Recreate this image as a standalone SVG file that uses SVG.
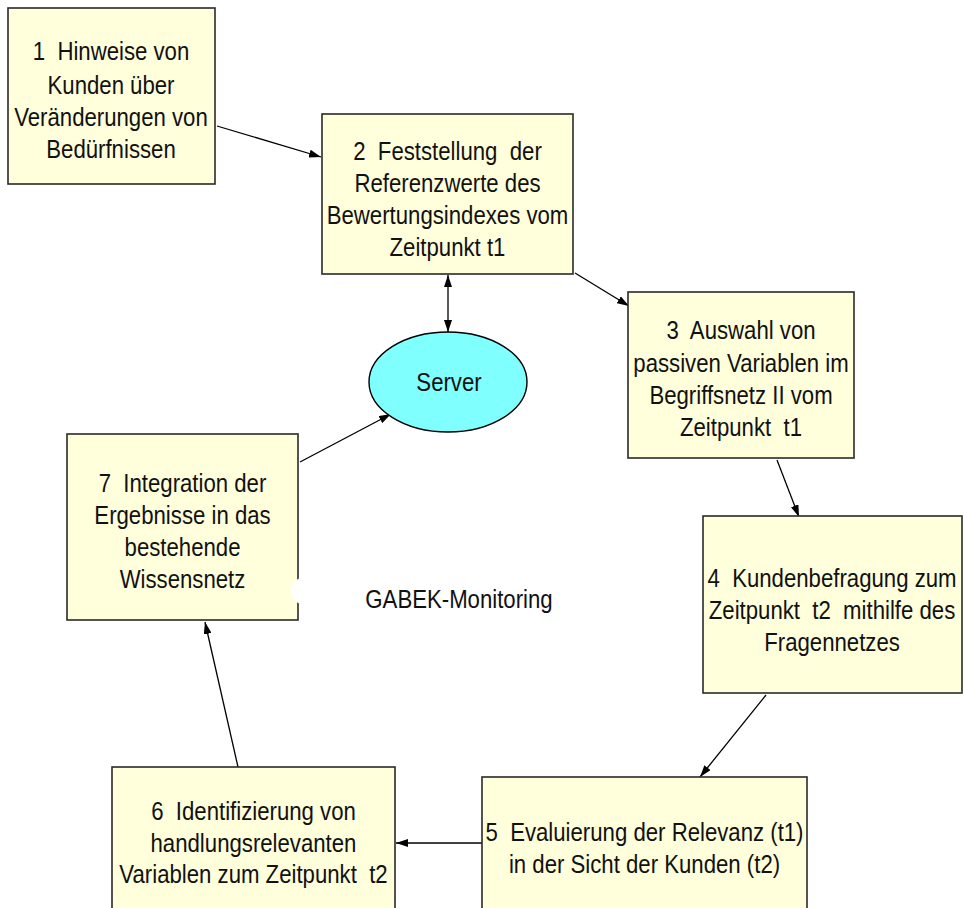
<svg xmlns="http://www.w3.org/2000/svg" width="963" height="908" viewBox="0 0 963 908">
  <style>
    .box { fill: #ffffdc; stroke: #2a2a2a; stroke-width: 1.6; }
    .srv { fill: #80ffff; stroke: #000; stroke-width: 1.4; }
    .lbl { font-family: "Liberation Sans", Arial, sans-serif; font-size: 25.5px; fill: #111; text-anchor: middle; }
    .edge { stroke: #000; stroke-width: 1.3; fill: none; }
  </style>
  <defs>
    <marker id="arr" viewBox="0 0 12 8" refX="12" refY="4" markerWidth="12" markerHeight="8" markerUnits="userSpaceOnUse" orient="auto-start-reverse">
      <path d="M0,0 L12,4 L0,8 Z" fill="#000"/>
    </marker>
  </defs>
  <rect width="963" height="908" fill="#fff"/>

  <g id="connectors">
    <line class="edge" x1="217" y1="126" x2="321" y2="157" marker-end="url(#arr)"/>
    <line class="edge" x1="575" y1="273" x2="629" y2="306" marker-end="url(#arr)"/>
    <line class="edge" x1="448" y1="275" x2="448" y2="332" marker-start="url(#arr)" marker-end="url(#arr)"/>
    <line class="edge" x1="777" y1="460" x2="799" y2="517" marker-end="url(#arr)"/>
    <line class="edge" x1="766" y1="695" x2="700" y2="777" marker-end="url(#arr)"/>
    <line class="edge" x1="482" y1="843" x2="396" y2="843" marker-end="url(#arr)"/>
    <line class="edge" x1="238" y1="767" x2="205" y2="622" marker-end="url(#arr)"/>
    <line class="edge" x1="300" y1="462" x2="391" y2="414" marker-end="url(#arr)"/>
  </g>

  <g id="node1">
    <rect class="box" x="8" y="8" width="207" height="176"/>
    <g transform="translate(111 0) scale(0.87 1)">
      <text class="lbl" x="0" y="60">1&#160; Hinweise von</text>
      <text class="lbl" x="0" y="94">Kunden über</text>
      <text class="lbl" x="0" y="126">Veränderungen von</text>
      <text class="lbl" x="0" y="158">Bedürfnissen</text>
    </g>
  </g>

  <g id="node2">
    <rect class="box" x="322" y="114" width="251" height="160"/>
    <g transform="translate(447.5 0) scale(0.87 1)">
      <text class="lbl" x="0" y="160">2&#160; Feststellung&#160; der</text>
      <text class="lbl" x="0" y="192">Referenzwerte des</text>
      <text class="lbl" x="0" y="224">Bewertungsindexes vom</text>
      <text class="lbl" x="0" y="256">Zeitpunkt t1</text>
    </g>
  </g>

  <g id="server">
    <ellipse class="srv" cx="448" cy="382" rx="79" ry="50"/>
    <g transform="translate(449 0) scale(0.87 1)">
      <text class="lbl" x="0" y="391">Server</text>
    </g>
  </g>

  <g id="node3">
    <rect class="box" x="628" y="292" width="226" height="166"/>
    <g transform="translate(741 0) scale(0.87 1)">
      <text class="lbl" x="0" y="339">3&#160; Auswahl von</text>
      <text class="lbl" x="0" y="372">passiven Variablen im</text>
      <text class="lbl" x="0" y="404">Begriffsnetz II vom</text>
      <text class="lbl" x="0" y="436">Zeitpunkt&#160; t1</text>
    </g>
  </g>

  <g id="node4">
    <rect class="box" x="703" y="516" width="259" height="177"/>
    <g transform="translate(832 0) scale(0.87 1)">
      <text class="lbl" x="0" y="587">4&#160; Kundenbefragung zum</text>
      <text class="lbl" x="0" y="619">Zeitpunkt&#160; t2&#160; mithilfe des</text>
      <text class="lbl" x="0" y="651">Fragennetzes</text>
    </g>
  </g>

  <g id="node5">
    <rect class="box" x="482" y="777" width="325" height="150"/>
    <g transform="translate(644.5 0) scale(0.87 1)">
      <text class="lbl" x="0" y="841">5&#160; Evaluierung der Relevanz (t1)</text>
      <text class="lbl" x="0" y="873">in der Sicht der Kunden (t2)</text>
    </g>
  </g>

  <g id="node6">
    <rect class="box" x="112" y="767" width="283" height="160"/>
    <g transform="translate(253.5 0) scale(0.87 1)">
      <text class="lbl" x="0" y="820">6&#160; Identifizierung von</text>
      <text class="lbl" x="0" y="852">handlungsrelevanten</text>
      <text class="lbl" x="0" y="883">Variablen zum Zeitpunkt&#160; t2</text>
    </g>
  </g>

  <g id="node7">
    <rect class="box" x="67" y="434" width="231" height="186"/>
    <g transform="translate(182.5 0) scale(0.87 1)">
      <text class="lbl" x="0" y="492">7&#160; Integration der</text>
      <text class="lbl" x="0" y="524">Ergebnisse in das</text>
      <text class="lbl" x="0" y="556">bestehende</text>
      <text class="lbl" x="0" y="588">Wissensnetz</text>
    </g>
  </g>

  <g id="title">
    <ellipse cx="306" cy="591" rx="15" ry="14" fill="#fff"/>
    <g transform="translate(459 0) scale(0.87 1)">
      <text class="lbl" x="0" y="608">GABEK-Monitoring</text>
    </g>
  </g>
</svg>
